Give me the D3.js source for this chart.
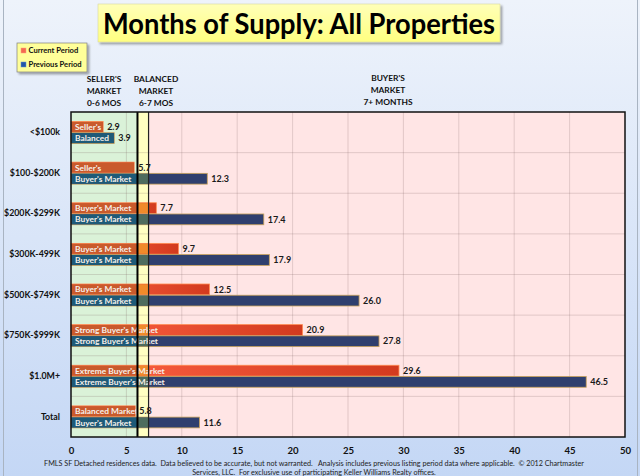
<!DOCTYPE html>
<html>
<head>
<meta charset="utf-8">
<script src="https://d3js.org/d3.v7.min.js"></script>
<style>
  body { margin: 0; background: #fff; }
  svg { display: block; font-family: Lato, "Open Sans", sans-serif; }
</style>
</head>
<body>
<svg id="chart" width="640" height="476"></svg>
<script>
// data
var categories = ["<$100k", "$100-$200K", "$200K-$299K", "$300K-499K", "$500K-$749K", "$750K-$999K", "$1.0M+", "Total"];
var currentValues = [2.9, 5.7, 7.7, 9.7, 12.5, 20.9, 29.6, 5.8];
var previousValues = [3.9, 12.3, 17.4, 17.9, 26.0, 27.8, 46.5, 11.6];
var currentLabels = ["Seller's", "Seller's", "Buyer's Market", "Buyer's Market", "Buyer's Market", "Strong Buyer's Market", "Extreme Buyer's Market", "Balanced Market"];
var previousLabels = ["Balanced", "Buyer's Market", "Buyer's Market", "Buyer's Market", "Buyer's Market", "Strong Buyer's Market", "Extreme Buyer's Market", "Buyer's Market"];
var xTicks = [0, 5, 10, 15, 20, 25, 30, 35, 40, 45, 50];
var zones = [
  { from: 0, to: 6, color: "#daf2d8", lines: ["SELLER'S", "MARKET", "0-6 MOS"] },
  { from: 6, to: 7, color: "#ffffc2", lines: ["BALANCED", "MARKET", "6-7 MOS"] },
  { from: 7, to: 50, color: "#ffe5e5", lines: ["BUYER'S", "MARKET", "7+ MONTHS"] }
];

var svg = d3.select("#chart");
var W = 640, H = 476;
var plotLeft = 71, plotRight = 625, plotTop = 112, plotBottom = 437;

var x = d3.scaleLinear().domain([0, 50]).range([plotLeft, plotRight]);
var y = d3.scaleBand().domain(categories).range([plotTop, plotBottom]);
var sub = d3.scaleBand().domain(["cur", "prev"]).range([9.5, 31.5]).paddingInner(0.04);

var defs = svg.append("defs");

var bg = defs.append("linearGradient").attr("id", "bg").attr("x1", 0).attr("y1", 0).attr("x2", 0).attr("y2", 1);
bg.append("stop").attr("offset", "0%").attr("stop-color", "#eef3fb");
bg.append("stop").attr("offset", "100%").attr("stop-color", "#c4d7f5");

var tg = defs.append("linearGradient").attr("id", "titlebg").attr("x1", 0).attr("y1", 0).attr("x2", 0).attr("y2", 1);
tg.append("stop").attr("offset", "0%").attr("stop-color", "#ffffb8");
tg.append("stop").attr("offset", "100%").attr("stop-color", "#ffff80");

var og = defs.append("linearGradient").attr("id", "orange");
og.append("stop").attr("offset", "0%").attr("stop-color", "#ff6244");
og.append("stop").attr("offset", "100%").attr("stop-color", "#d23a1e");

var sh = defs.append("filter").attr("id", "shadow").attr("x", "-10%").attr("y", "-10%").attr("width", "130%").attr("height", "140%");
sh.append("feDropShadow").attr("dx", 2).attr("dy", 2).attr("stdDeviation", 1.2).attr("flood-color", "#000").attr("flood-opacity", 0.35);

// background
svg.append("rect").attr("width", W).attr("height", H).attr("fill", "url(#bg)");
svg.append("rect").attr("x", 3.5).attr("y", -1).attr("width", W - 6).attr("height", H + 2)
  .attr("fill", "none").attr("stroke", "#a9b4c2").attr("stroke-width", 1);

// title
svg.append("rect").attr("x", 98).attr("y", 4).attr("width", 402).attr("height", 38)
  .attr("fill", "url(#titlebg)").attr("stroke", "#d8d8a0").attr("stroke-width", 0.6).attr("filter", "url(#shadow)");
svg.append("text").attr("x", 299).attr("y", 34).attr("text-anchor", "middle")
  .attr("font-size", 29).attr("font-weight", "bold").attr("fill", "#000")
  .attr("textLength", 392).attr("lengthAdjust", "spacingAndGlyphs")
  .text("Months of Supply: All Properties");

// legend
var lg = svg.append("g");
lg.append("rect").attr("x", 17).attr("y", 43).attr("width", 70).attr("height", 29)
  .attr("fill", "#ffff99").attr("stroke", "#7f7f7f").attr("stroke-width", 0.7).attr("filter", "url(#shadow)");
var legendItems = [
  { label: "Current Period", color: "#f46a50", stroke: "#ffa080" },
  { label: "Previous Period", color: "#2457a8", stroke: "#6a90d0" }
];
legendItems.forEach(function (d, i) {
  lg.append("rect").attr("x", 21).attr("y", 48 + i * 14).attr("width", 5).attr("height", 5)
    .attr("fill", d.color).attr("stroke", d.stroke).attr("stroke-width", 0.5);
  lg.append("text").attr("x", 28.5).attr("y", 53.3 + i * 14).attr("font-size", 7.6).attr("font-weight", "bold")
    .attr("fill", "#111").text(d.label);
});

// zone headers
zones.forEach(function (z, zi) {
  var cx = zi === 0 ? 104 : zi === 1 ? 156 : 388;
  z.lines.forEach(function (line, li) {
    svg.append("text").attr("x", cx).attr("y", (zi === 2 ? 80.5 : 82) + li * 12.2)
      .attr("text-anchor", "middle").attr("font-size", 8.4).attr("font-weight", "bold")
      .attr("fill", "#111").text(line);
  });
});

// zone bands
svg.append("g").selectAll("rect").data(zones).join("rect")
  .attr("x", function (d) { return x(d.from); })
  .attr("width", function (d) { return x(d.to) - x(d.from); })
  .attr("y", plotTop).attr("height", plotBottom - plotTop)
  .attr("fill", function (d) { return d.color; });

// grid
var grid = svg.append("g").attr("stroke", "#7a6060").attr("stroke-opacity", 0.28).attr("stroke-width", 0.8);
grid.selectAll("line.v").data(xTicks.slice(1, -1)).join("line").attr("class", "v")
  .attr("x1", function (d) { return x(d); }).attr("x2", function (d) { return x(d); })
  .attr("y1", plotTop).attr("y2", plotBottom);
grid.selectAll("line.h").data(categories.slice(1)).join("line").attr("class", "h")
  .attr("x1", plotLeft).attr("x2", plotRight)
  .attr("y1", function (d) { return y(d); }).attr("y2", function (d) { return y(d); });

// bars
var rows = categories.map(function (c, i) {
  return { cat: c, cur: currentValues[i], prev: previousValues[i], curLabel: currentLabels[i], prevLabel: previousLabels[i] };
});
var series = [
  { key: "cur", fill: "url(#orange)", stroke: "#ff8a50", tint: ["#c95a2c", "#f08a2a"] },
  { key: "prev", fill: "#2f3f6e", stroke: "#c9a25a", tint: ["#1e5a78", "#4e6c5e"] }
];

var barG = svg.append("g");
series.forEach(function (s) {
  var g = barG.append("g");
  function by(d) { return y(d.cat) + sub(s.key); }
  g.selectAll("rect.bar").data(rows).join("rect").attr("class", "bar")
    .attr("x", x(0)).attr("y", by)
    .attr("width", function (d) { return x(d[s.key]) - x(0); })
    .attr("height", sub.bandwidth())
    .attr("fill", s.fill).attr("stroke", s.stroke).attr("stroke-width", 0.8);
  // parts of each bar lying over the seller's and balanced zones
  g.selectAll("rect.z0").data(rows).join("rect").attr("class", "z0")
    .attr("x", x(0) + 0.4).attr("y", function (d) { return by(d) + 0.4; })
    .attr("width", function (d) { return Math.max(0, x(Math.min(d[s.key], 6)) - x(0) - 0.8); })
    .attr("height", sub.bandwidth() - 0.8).attr("fill", s.tint[0]);
  g.selectAll("rect.z1").data(rows.filter(function (d) { return d[s.key] > 6; })).join("rect").attr("class", "z1")
    .attr("x", x(6)).attr("y", function (d) { return by(d) + 0.4; })
    .attr("width", function (d) { return x(Math.min(d[s.key], 7)) - x(6) - (d[s.key] < 7 ? 0.4 : 0); })
    .attr("height", sub.bandwidth() - 0.8).attr("fill", s.tint[1]);
  g.selectAll("text.in").data(rows).join("text").attr("class", "in")
    .attr("x", x(0) + 4).attr("y", function (d) { return by(d) + sub.bandwidth() / 2 + 3.1; })
    .attr("font-size", 8.4).attr("font-weight", "bold").attr("fill", "#f6f0ea")
    .text(function (d) { return d[s.key + "Label"]; });
});

// zone divider lines
svg.append("line").attr("x1", x(6)).attr("x2", x(6)).attr("y1", plotTop).attr("y2", plotBottom)
  .attr("stroke", "#000").attr("stroke-width", 2);
svg.append("line").attr("x1", x(7)).attr("x2", x(7)).attr("y1", plotTop).attr("y2", plotBottom)
  .attr("stroke", "#222").attr("stroke-width", 1.2);

// value labels
series.forEach(function (s) {
  svg.append("g").selectAll("text").data(rows).join("text")
    .attr("x", function (d) { return x(d[s.key]) + 4; })
    .attr("y", function (d) { return y(d.cat) + sub(s.key) + sub.bandwidth() / 2 + 3.2; })
    .attr("font-size", 9).attr("font-weight", "bold").attr("fill", "#1a1a1a")
    .text(function (d) { return d3.format(".1f")(d[s.key]); });
});

// plot frame
svg.append("rect").attr("x", plotLeft).attr("y", plotTop).attr("width", plotRight - plotLeft).attr("height", plotBottom - plotTop)
  .attr("fill", "none").attr("stroke", "#111").attr("stroke-width", 1.5);

// category axis
var yAxis = svg.append("g").attr("transform", "translate(" + (plotLeft - 11) + ",0)")
  .call(d3.axisLeft(y).tickSize(0).tickPadding(0));
yAxis.select(".domain").remove();
yAxis.selectAll("text").attr("font-size", 8.8).attr("font-weight", "bold").attr("fill", "#111")
  .attr("font-family", "Lato, 'Open Sans', sans-serif");

// value axis
var xAxis = svg.append("g").attr("transform", "translate(0," + (plotBottom + 10) + ")")
  .call(d3.axisBottom(x).tickValues(xTicks).tickSize(0).tickPadding(0));
xAxis.select(".domain").remove();
xAxis.selectAll("text").attr("font-size", 9.6).attr("font-weight", "bold").attr("fill", "#111")
  .attr("font-family", "Lato, 'Open Sans', sans-serif");

// footer
var footer = [
  "FMLS SF Detached residences data.  Data believed to be accurate, but not warranted.   Analysis includes previous listing period data where applicable.  \u00a9 2012 Chartmaster",
  "Services, LLC.  For exclusive use of participating Keller Williams Realty offices."
];
footer.forEach(function (t, i) {
  svg.append("text").attr("x", 314).attr("y", 465.5 + i * 9).attr("text-anchor", "middle")
    .attr("font-size", 7.2).attr("fill", "#222").attr("xml:space", "preserve")
    .style("white-space", "pre").text(t);
});
</script>
</body>
</html>
